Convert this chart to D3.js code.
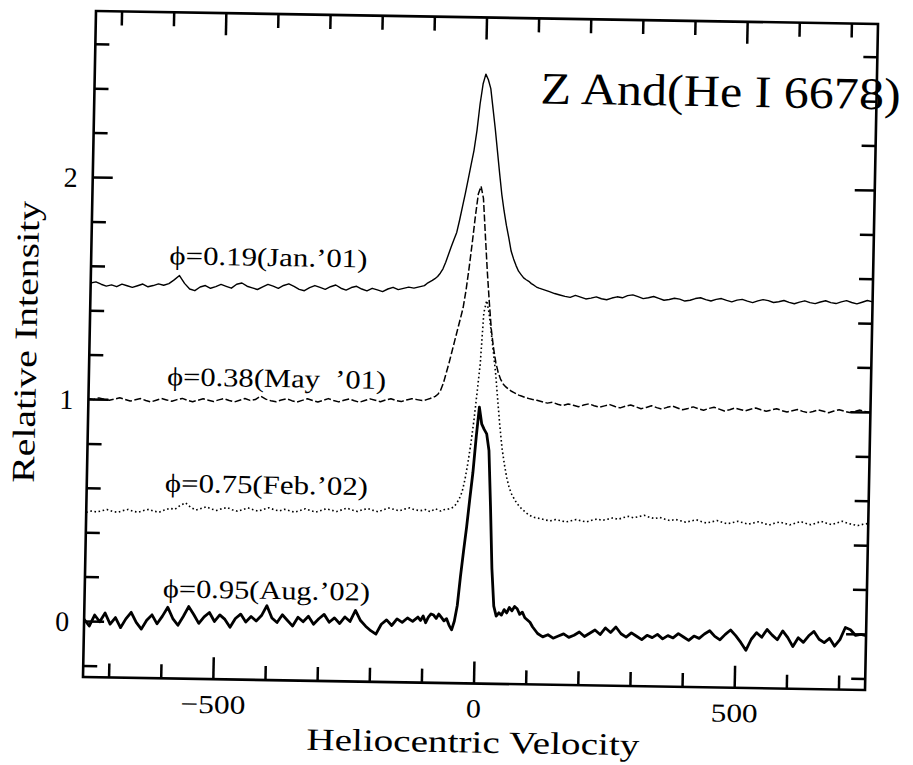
<!DOCTYPE html>
<html>
<head>
<meta charset="utf-8">
<script src="https://cdn.jsdelivr.net/npm/d3@7"></script>
<style>
  html, body { margin: 0; padding: 0; background: #fff; }
  svg { display: block; }
  text { font-family: "Liberation Serif", "Times New Roman", Times, serif; fill: #000; }
</style>
</head>
<body>
<svg id="chart" width="913" height="765"></svg>
<script>
// Heliocentric velocity grid (km/s): 10 km/s steps in the wings, 5 km/s across the line core
const velocity = [
  -750,-740,-730,-720,-710,-700,-690,-680,-670,-660,
  -650,-640,-630,-620,-610,-600,-590,-580,-570,-560,
  -550,-540,-530,-520,-510,-500,-490,-480,-470,-460,
  -450,-440,-430,-420,-410,-400,-390,-380,-370,-360,
  -350,-340,-330,-320,-310,-300,-290,-280,-270,-260,
  -250,-240,-230,-220,-210,-200,-190,-180,-170,-160,
  -150,-140,-130,-120,-110,
  -105,-100,-95,-90,-85,-80,-75,-70,-65,-60,
  -55,-50,-45,-40,-35,-30,-25,-20,-15,-10,
  -5,0,5,10,15,20,25,30,35,40,
  45,50,55,60,65,70,75,80,85,90,
  95,100,105,
  110,120,130,140,150,160,170,180,190,200,
  210,220,230,240,250,260,270,280,290,300,
  310,320,330,340,350,360,370,380,390,400,
  410,420,430,440,450,460,470,480,490,500,
  510,520,530,540,550,560,570,580,590,600,
  610,620,630,640,650,660,670,680,690,700,
  710,720,730,740,750
];

// He I 6678 relative intensity, each epoch offset vertically
const intensityJan01 = [
  1.525,1.530,1.520,1.512,1.518,1.510,1.522,1.515,1.508,1.516,
  1.524,1.512,1.518,1.526,1.520,1.528,1.545,1.565,1.530,1.505,
  1.498,1.515,1.522,1.510,1.518,1.528,1.520,1.512,1.530,1.536,
  1.522,1.515,1.508,1.520,1.532,1.524,1.515,1.528,1.536,1.525,
  1.512,1.506,1.520,1.530,1.522,1.514,1.526,1.534,1.520,1.512,
  1.524,1.530,1.518,1.510,1.522,1.515,1.508,1.520,1.528,1.518,
  1.524,1.530,1.526,1.532,1.538,
  1.548,1.555,1.562,1.570,1.580,1.595,1.615,1.645,1.680,1.715,
  1.748,1.780,1.835,1.895,1.955,2.020,2.085,2.150,2.240,2.360,
  2.450,2.495,2.470,2.430,2.340,2.250,2.150,2.050,1.955,1.880,
  1.815,1.760,1.700,1.665,1.635,1.610,1.595,1.580,1.572,1.565,
  1.555,1.548,1.540,
  1.535,1.528,1.520,1.512,1.506,1.500,1.496,1.505,1.498,1.490,
  1.494,1.500,1.492,1.488,1.496,1.502,1.498,1.508,1.512,1.504,
  1.496,1.500,1.506,1.498,1.490,1.494,1.500,1.496,1.488,1.492,
  1.500,1.504,1.496,1.490,1.498,1.502,1.494,1.488,1.496,1.500,
  1.492,1.486,1.494,1.500,1.496,1.488,1.492,1.498,1.490,1.484,
  1.492,1.498,1.490,1.486,1.494,1.500,1.492,1.488,1.496,1.502,
  1.494,1.488,1.496,1.504,1.498
];

const intensityMay01 = [
  1.005,1.000,1.008,1.002,0.998,1.004,1.010,1.003,0.996,1.002,
  1.008,1.000,0.994,1.002,1.010,1.004,0.998,1.006,1.012,1.004,
  0.998,1.005,1.012,1.006,1.000,1.008,1.014,1.006,1.000,1.008,
  1.016,1.008,1.012,1.028,1.015,1.008,1.004,1.012,1.018,1.010,
  1.004,1.012,1.020,1.012,1.006,1.014,1.022,1.014,1.008,1.016,
  1.022,1.014,1.008,1.016,1.024,1.018,1.012,1.020,1.026,1.018,
  1.014,1.022,1.028,1.024,1.020,
  1.022,1.026,1.030,1.035,1.040,1.050,1.068,1.100,1.145,1.190,
  1.240,1.290,1.340,1.390,1.440,1.520,1.620,1.730,1.850,1.955,
  1.990,1.935,1.770,1.610,1.470,1.345,1.260,1.195,1.150,1.120,
  1.100,1.088,1.078,1.070,1.064,1.058,1.052,1.048,1.044,1.040,
  1.037,1.034,1.032,
  1.030,1.024,1.018,1.022,1.014,1.008,1.016,1.010,1.004,1.012,
  1.018,1.010,1.004,1.010,1.016,1.008,1.002,1.010,1.016,1.008,
  1.000,1.006,1.014,1.006,1.000,1.008,1.014,1.006,0.998,1.004,
  1.012,1.004,0.998,1.006,1.012,1.004,0.996,1.002,1.010,1.004,
  0.998,1.006,1.012,1.004,0.998,1.004,1.010,1.002,0.996,1.002,
  1.008,1.000,0.994,1.000,1.008,1.002,0.996,1.004,1.010,1.004,
  0.998,1.004,1.010,1.004,1.000
];

const intensityFeb02 = [
  0.492,0.498,0.494,0.500,0.506,0.498,0.494,0.502,0.508,0.500,
  0.496,0.504,0.510,0.502,0.498,0.508,0.516,0.512,0.530,0.542,
  0.522,0.510,0.518,0.526,0.516,0.510,0.518,0.524,0.514,0.508,
  0.516,0.524,0.516,0.510,0.518,0.526,0.518,0.512,0.520,0.514,
  0.508,0.516,0.524,0.516,0.510,0.518,0.526,0.520,0.514,0.522,
  0.530,0.522,0.516,0.524,0.530,0.522,0.516,0.526,0.534,0.528,
  0.522,0.530,0.536,0.528,0.524,
  0.526,0.530,0.524,0.520,0.528,0.534,0.528,0.524,0.530,0.532,
  0.534,0.538,0.544,0.560,0.582,0.612,0.668,0.742,0.830,0.935,
  1.060,1.190,1.420,1.475,1.420,1.330,1.240,1.145,1.025,0.910,
  0.810,0.740,0.680,0.635,0.606,0.585,0.566,0.552,0.540,0.530,
  0.520,0.512,0.506,
  0.502,0.498,0.492,0.488,0.494,0.490,0.484,0.490,0.496,0.490,
  0.486,0.494,0.500,0.494,0.500,0.506,0.500,0.508,0.514,0.508,
  0.514,0.520,0.512,0.506,0.512,0.504,0.498,0.504,0.498,0.492,
  0.498,0.504,0.496,0.490,0.496,0.502,0.494,0.488,0.494,0.500,
  0.494,0.488,0.494,0.500,0.492,0.486,0.494,0.500,0.494,0.488,
  0.496,0.504,0.496,0.490,0.498,0.506,0.498,0.492,0.500,0.508,
  0.500,0.494,0.490,0.496,0.500
];

const intensityAug02 = [
  0.010,-0.020,0.030,0.000,0.040,-0.010,0.020,-0.025,0.015,0.045,
  0.000,-0.030,0.010,0.035,-0.005,0.030,0.070,0.020,-0.010,0.030,
  0.075,0.040,0.000,0.030,0.050,0.010,0.040,0.020,-0.015,0.025,
  0.045,0.010,0.035,0.015,0.040,0.085,0.030,0.010,0.045,0.020,
  -0.005,0.035,0.015,0.040,0.005,0.030,0.050,0.015,0.035,0.010,
  0.040,0.020,0.070,0.025,0.000,-0.020,-0.035,0.010,0.030,0.005,
  0.035,0.020,0.040,0.025,0.045,
  0.030,0.050,0.020,0.045,0.060,0.055,0.040,0.060,0.045,0.030,
  0.040,0.010,-0.010,0.030,0.100,0.230,0.345,0.455,0.580,0.700,
  0.860,0.995,0.920,0.895,0.875,0.800,0.550,0.270,0.100,0.055,
  0.070,0.060,0.085,0.070,0.095,0.080,0.100,0.090,0.065,0.075,
  0.050,0.040,0.030,
  0.010,-0.020,-0.035,-0.025,-0.040,-0.030,-0.020,-0.035,-0.025,-0.010,
  -0.030,-0.015,0.000,-0.020,0.010,-0.010,0.015,-0.015,-0.030,-0.010,
  -0.025,-0.040,-0.020,-0.030,-0.015,-0.035,-0.020,-0.030,-0.010,-0.025,
  -0.040,-0.020,-0.030,-0.010,0.005,-0.020,-0.035,-0.010,0.010,-0.015,
  -0.045,-0.080,-0.030,0.000,-0.020,0.015,-0.010,-0.030,0.010,-0.020,
  -0.060,-0.020,-0.040,-0.010,0.010,-0.025,-0.040,-0.020,-0.055,-0.025,
  0.030,0.020,-0.005,0.000,-0.005
];

const seriesLabels = ["ϕ=0.19(Jan.’01)", "ϕ=0.38(May  ’01)", "ϕ=0.75(Feb.’02)", "ϕ=0.95(Aug.’02)"];

// Axis ticks
const xMajorTicks = [-500, 0, 500];
const xMinorTicks = [-700, -600, -400, -300, -200, -100, 100, 200, 300, 400, 600, 700];
const xTickLabels = ["−500", "0", "500"];
const yMajorTicks = [0, 1, 2];
const yMinorTicks = [-0.2, 0.2, 0.4, 0.6, 0.8, 1.2, 1.4, 1.6, 1.8, 2.2, 2.4, 2.6];
const yTickLabels = ["0", "1", "2"];

const titleText = "Z And(He I 6678)";
const xAxisTitle = "Heliocentric Velocity";
const yAxisTitle = "Relative Intensity";

// ---------------------------------------------------------------
const W = 782, H = 666;
const svg = d3.select("#chart");
svg.append("rect").attr("width", 913).attr("height", 765).attr("fill", "#fff");

// the printed figure sits slightly askew on its page
const g = svg.append("g").attr("transform", "matrix(1,0.01662,-0.01952,1,96,11)");

const x = d3.scaleLinear().domain([-750, 750]).range([0, W]);
const y = d3.scaleLinear().domain([-0.25, 2.75]).range([H, 0]);

// inward-pointing ticks on all four sides
const xMinLen = 14, xMajLen = 22, yMinLen = 14, yMajLen = 20;
const xTicks = xMinorTicks.map(v => ({ v, len: xMinLen })).concat(xMajorTicks.map(v => ({ v, len: xMajLen })));
const yTicks = yMinorTicks.map(v => ({ v, len: yMinLen })).concat(yMajorTicks.map(v => ({ v, len: yMajLen })));
const tickG = g.append("g").attr("stroke", "#000").attr("stroke-width", 2.5).attr("stroke-linecap", "butt");
tickG.selectAll("line.xb").data(xTicks).join("line").attr("class", "xb")
  .attr("x1", d => x(d.v)).attr("x2", d => x(d.v)).attr("y1", H).attr("y2", d => H - d.len);
tickG.selectAll("line.xt").data(xTicks).join("line").attr("class", "xt")
  .attr("x1", d => x(d.v)).attr("x2", d => x(d.v)).attr("y1", 0).attr("y2", d => d.len);
tickG.selectAll("line.yl").data(yTicks).join("line").attr("class", "yl")
  .attr("y1", d => y(d.v)).attr("y2", d => y(d.v)).attr("x1", 0).attr("x2", d => d.len);
tickG.selectAll("line.yr").data(yTicks).join("line").attr("class", "yr")
  .attr("y1", d => y(d.v)).attr("y2", d => y(d.v)).attr("x1", W).attr("x2", d => W - d.len);

// frame
g.append("rect").attr("x", 0).attr("y", 0).attr("width", W).attr("height", H)
  .attr("fill", "none").attr("stroke", "#000").attr("stroke-width", 2.6);

// tick labels
const xLabelWidths = [65, 15, 47];
g.selectAll("text.xlab").data(xMajorTicks).join("text").attr("class", "xlab")
  .attr("x", d => x(d)).attr("y", H + 34)
  .attr("text-anchor", "middle").attr("font-size", 26)
  .attr("textLength", (d, i) => xLabelWidths[i]).attr("lengthAdjust", "spacingAndGlyphs")
  .text((d, i) => xTickLabels[i]);
g.selectAll("text.ylab").data(yMajorTicks).join("text").attr("class", "ylab")
  .attr("x", -15).attr("y", d => y(d)).attr("dy", "0.35em")
  .attr("text-anchor", "end").attr("font-size", 28)
  .text((d, i) => yTickLabels[i]);

// axis titles and figure title
g.append("text").attr("x", x(0)).attr("y", H + 69)
  .attr("text-anchor", "middle").attr("font-size", 31)
  .attr("textLength", 333).attr("lengthAdjust", "spacingAndGlyphs")
  .text(xAxisTitle);
g.append("text").attr("transform", `translate(-53,${y(1.255)}) rotate(-90)`)
  .attr("text-anchor", "middle").attr("font-size", 32)
  .attr("textLength", 282).attr("lengthAdjust", "spacingAndGlyphs")
  .text(yAxisTitle);
g.append("text").attr("x", 446).attr("y", 85)
  .attr("font-size", 45)
  .attr("textLength", 360).attr("lengthAdjust", "spacingAndGlyphs")
  .text(titleText);

// spectra
const series = [
  { values: intensityJan01, width: 1.4, dash: null,  labelAt: 1.615, labelW: 198 },
  { values: intensityMay01, width: 1.5, dash: "7,2.5", labelAt: 1.07, labelW: 219 },
  { values: intensityFeb02, width: 1.6, dash: "1.6,2.6", labelAt: 0.59, labelW: 203 },
  { values: intensityAug02, width: 2.8, dash: null,  labelAt: 0.115, labelW: 207 }
];
const line = d3.line().x((d, i) => x(velocity[i])).y(d => y(d));

series.forEach((s, k) => {
  g.append("path").attr("d", line(s.values))
    .attr("fill", "none").attr("stroke", "#000")
    .attr("stroke-width", s.width)
    .attr("stroke-linejoin", "round")
    .attr("stroke-dasharray", s.dash);
  g.append("text").attr("x", x(-600)).attr("y", y(s.labelAt))
    .attr("font-size", 26)
    .attr("xml:space", "preserve").style("white-space", "pre")
    .attr("textLength", s.labelW).attr("lengthAdjust", "spacingAndGlyphs")
    .text(seriesLabels[k]);
});
</script>
</body>
</html>
